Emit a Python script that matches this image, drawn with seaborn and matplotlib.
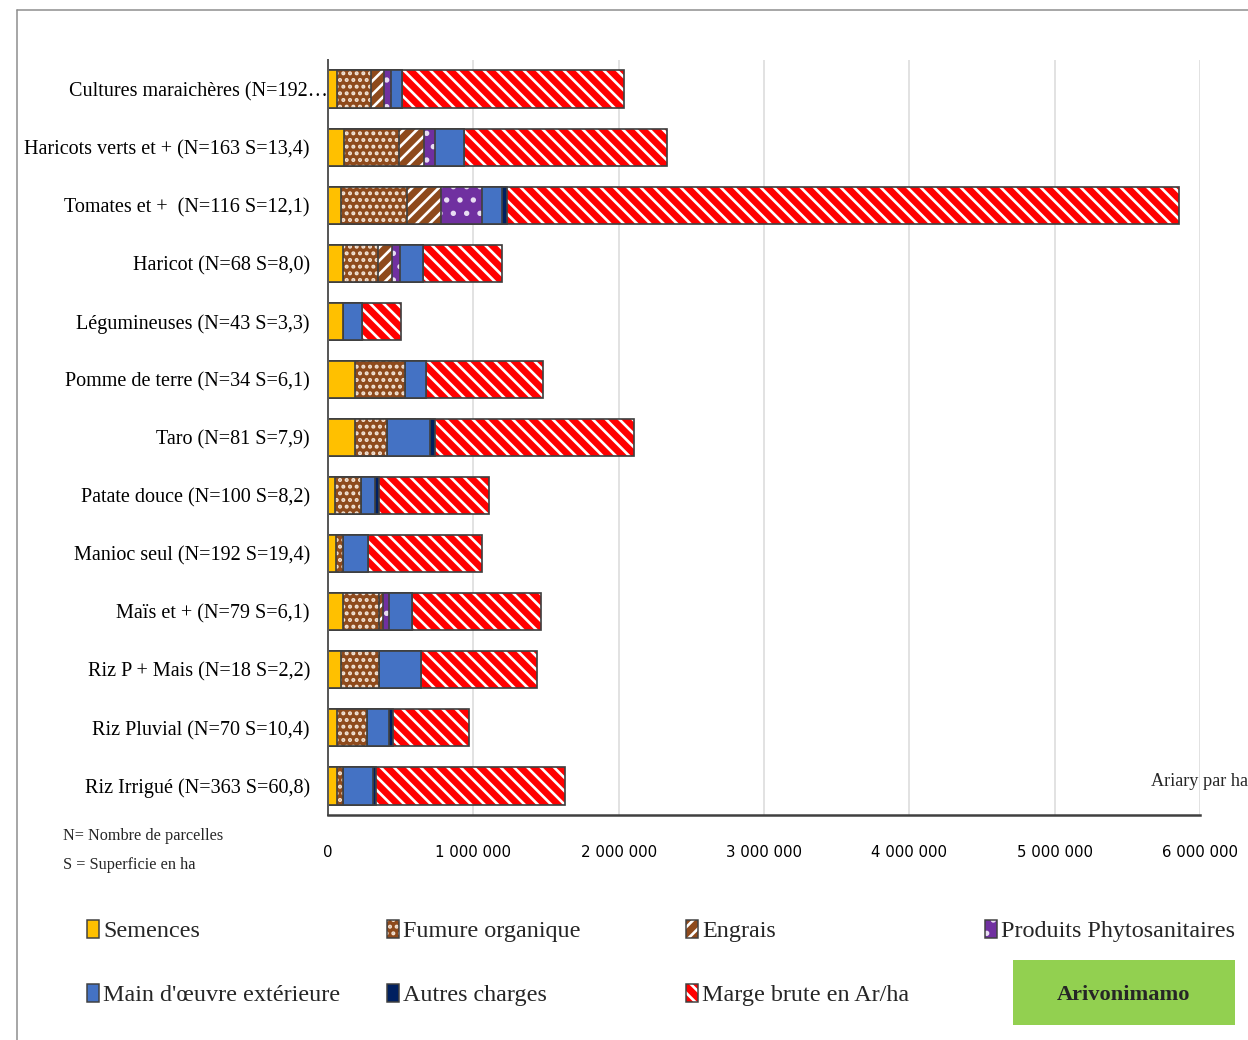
import matplotlib
matplotlib.use("Agg")
import matplotlib.pyplot as plt
import numpy as np
import seaborn as sns
from matplotlib import font_manager
from matplotlib.lines import Line2D
from matplotlib.patches import Rectangle
from matplotlib.ticker import FuncFormatter

W, H, DPI = 1248, 1040, 80

CATEGORIES = [
    "Cultures maraichères (N=192…",
    "Haricots verts et + (N=163 S=13,4)",
    "Tomates et +  (N=116 S=12,1)",
    "Haricot (N=68 S=8,0)",
    "Légumineuses (N=43 S=3,3)",
    "Pomme de terre (N=34 S=6,1)",
    "Taro (N=81 S=7,9)",
    "Patate douce (N=100 S=8,2)",
    "Manioc seul (N=192 S=19,4)",
    "Maïs et + (N=79 S=6,1)",
    "Riz P + Mais (N=18 S=2,2)",
    "Riz Pluvial (N=70 S=10,4)",
    "Riz Irrigué (N=363 S=60,8)",
]

# Ariary par ha
SEMENCES = [64000, 112000, 87000, 105000, 105000, 188000, 186000, 48000, 55000, 103000, 87000, 64000, 60000]
FUMURE = [232000, 376000, 454000, 236000, 0, 341000, 218000, 181000, 50000, 245000, 261000, 202000, 41000]
ENGRAIS = [92000, 170000, 234000, 96000, 0, 0, 0, 0, 0, 32000, 0, 0, 0]
PHYTO = [46000, 80000, 282000, 57000, 0, 0, 0, 0, 0, 39000, 0, 0, 0]
MAIN_OEUVRE = [78000, 197000, 140000, 158000, 131000, 144000, 298000, 94000, 167000, 156000, 293000, 156000, 211000]
AUTRES = [0, 0, 32000, 0, 0, 0, 37000, 27000, 0, 0, 0, 23000, 18000]
MARGE = [1524000, 1400000, 4628000, 548000, 263000, 806000, 1368000, 758000, 788000, 891000, 800000, 527000, 1301000]

SERIES_NAMES = [
    "Semences",
    "Fumure organique",
    "Engrais",
    "Produits Phytosanitaires",
    "Main d'œuvre extérieure",
    "Autres charges",
    "Marge brute en Ar/ha",
]
SERIES_VALUES = [SEMENCES, FUMURE, ENGRAIS, PHYTO, MAIN_OEUVRE, AUTRES, MARGE]

# nom -> (couleur de fond, motif, couleur du motif)
STYLES = {
    "Semences": ("#FFC000", None, "#FFC000"),
    "Fumure organique": ("#8E4A1C", "..", "#F2E3D5"),
    "Engrais": ("#8E4A1C", "//", "white"),
    "Produits Phytosanitaires": ("#7030A0", ".", "#E8DDF2"),
    "Main d'œuvre extérieure": ("#4472C4", None, "#4472C4"),
    "Autres charges": ("#002060", None, "#002060"),
    "Marge brute en Ar/ha": ("#FF0000", "\\\\", "white"),
}
OUTLINE = "#404040"


def pt(px):
    return px * 72 / DPI


def fx(px):
    return px / W


def fy(px):
    return 1 - px / H


sns.set_theme(style="white")
plt.rcParams["font.family"] = ["Liberation Serif", "DejaVu Serif"]
plt.rcParams["hatch.linewidth"] = 2.4

names = {f.name for f in font_manager.fontManager.ttflist}
if "Liberation Sans Narrow" in names:
    tick_family, tick_size = "Liberation Sans Narrow", pt(19.5)
else:
    tick_family, tick_size = "DejaVu Sans", pt(15)

fig = plt.figure(figsize=(W / DPI, H / DPI), dpi=DPI)
ax = fig.add_axes([fx(328), fy(815), (1200 - 328) / W, (815 - 60) / H])

# barres empilees : on trace les cumuls du plus long au plus court
cumul = np.cumsum(np.array(SERIES_VALUES, dtype=float), axis=0)
for i in reversed(range(len(SERIES_NAMES))):
    face, hatch, hcol = STYLES[SERIES_NAMES[i]]
    sns.barplot(x=cumul[i], y=CATEGORIES, orient="y", color=face, saturation=1,
                width=0.64, hatch=hatch, edgecolor=hcol, linewidth=0, ax=ax)
    sns.barplot(x=cumul[i], y=CATEGORIES, orient="y", color=OUTLINE, fill=False,
                width=0.64, linewidth=pt(1.7), ax=ax)

ax.set_xlim(0, 6_000_000)
ax.set_xticks(np.arange(0, 6_000_001, 1_000_000))
ax.xaxis.set_major_formatter(FuncFormatter(lambda v, p: f"{int(v):,}".replace(",", " ")))
ax.set_xlabel("")
ax.set_ylabel("")
ax.set_axisbelow(True)
ax.xaxis.grid(True, color="#D9D9D9", linewidth=pt(1.5))
ax.yaxis.grid(False)
for side in ["top", "right"]:
    ax.spines[side].set_visible(False)
ax.spines["left"].set_color("#595959")
ax.spines["left"].set_linewidth(pt(2))
ax.spines["bottom"].set_color("#404040")
ax.spines["bottom"].set_linewidth(pt(2.5))

ax.tick_params(axis="x", length=0, pad=pt(30), labelsize=tick_size, labelcolor="black")
for lab in ax.get_xticklabels():
    lab.set_family(tick_family)

ylabels = [""] + CATEGORIES[1:]
ax.set_yticks(range(len(CATEGORIES)))
ax.set_yticklabels(ylabels)
ax.tick_params(axis="y", length=0, pad=pt(18), labelsize=pt(20.1), labelcolor="black")
# premiere etiquette tronquee, collee a l'axe
ax.text(0, 0, CATEGORIES[0], transform=ax.get_yaxis_transform(), ha="right",
        va="center_baseline", fontsize=pt(20.1), color="black")

fig.text(fx(1151), fy(781), "Ariary par ha", ha="left", va="center", fontsize=pt(18.2))
fig.text(fx(63), fy(836), "N= Nombre de parcelles", ha="left", va="center", fontsize=pt(16.2))
fig.text(fx(63), fy(865), "S = Superficie en ha", ha="left", va="center", fontsize=pt(16.2))

# cadre gris (haut et gauche)
fig.add_artist(Line2D([fx(17), 1], [fy(10), fy(10)], color="#8C8C8C", lw=pt(1.5)))
fig.add_artist(Line2D([fx(17), fx(17)], [fy(10), 0], color="#8C8C8C", lw=pt(1.5)))

# legende
col_x = [87, 387, 686, 985, 87, 387, 686]
row_y = [929, 929, 929, 929, 993, 993, 993]
for name, x, y in zip(SERIES_NAMES, col_x, row_y):
    face, hatch, hcol = STYLES[name]
    rect = (fx(x), fy(y + 9)), 12 / W, 18 / H
    fig.add_artist(Rectangle(*rect, facecolor=face, hatch=hatch, edgecolor=hcol,
                             linewidth=0, transform=fig.transFigure))
    fig.add_artist(Rectangle(*rect, facecolor="none", edgecolor=OUTLINE,
                             linewidth=pt(1.5), transform=fig.transFigure))
    fig.text(fx(x + 16), fy(y + 8), name, ha="left", va="baseline", fontsize=pt(24.2))

fig.add_artist(Rectangle((fx(1013), fy(1025)), (1235 - 1013) / W, (1025 - 960) / H,
                         facecolor="#92D050", edgecolor="none", transform=fig.transFigure))
fig.text(fx(1124), fy(995), "Arivonimamo", ha="center", va="center",
         fontsize=pt(22.4), fontweight="bold")

fig.savefig("out.png", dpi=DPI)
